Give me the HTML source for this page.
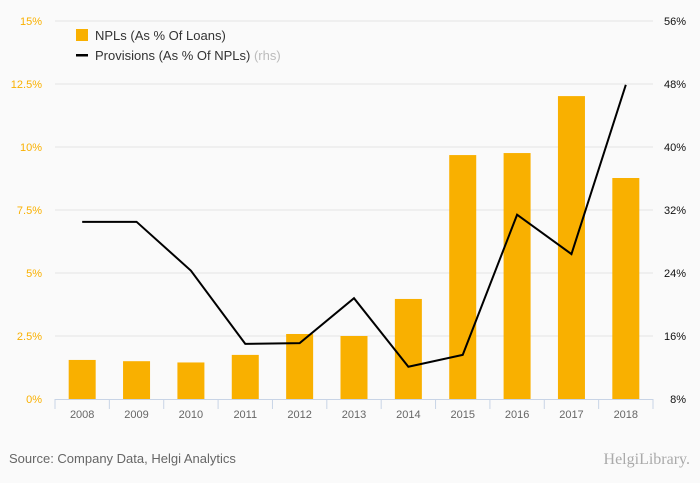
<!DOCTYPE html>
<html><head><meta charset="utf-8"><style>
body{margin:0;background:#fafafa;font-family:"Liberation Sans",sans-serif;}
svg{display:block}
</style></head><body>
<svg id="chart" width="700" height="483">
<rect width="700" height="483" fill="#fafafa"/>
<g id="grid"></g><g id="bars"></g><g id="line"></g><g id="axes"></g>
<g>
<rect x="76" y="29" width="12" height="12" fill="#f9b000"/>
<text x="95" y="40" font-size="13" fill="#333">NPLs (As % Of Loans)</text>
<rect x="76" y="54" width="12" height="2.5" fill="#000"/>
<text x="95" y="60" font-size="13" fill="#333">Provisions (As % Of NPLs) <tspan fill="#bbb">(rhs)</tspan></text>
</g>
<text x="9" y="463" font-size="13" fill="#666">Source: Company Data, Helgi Analytics</text>
<text x="690" y="464" font-size="16" fill="#aaa" text-anchor="end" font-family="Liberation Serif,serif">HelgiLibrary.</text>
</svg>
<script>
const categories=["2008","2009","2010","2011","2012","2013","2014","2015","2016","2017","2018"];
const nplValues=[1.55,1.5,1.45,1.75,2.58,2.5,3.97,9.68,9.76,12.02,8.77];
const provisionValues=[30.5,30.5,24.3,15.0,15.1,20.8,12.1,13.6,31.4,26.4,47.9];
const leftTicks=[0,2.5,5,7.5,10,12.5,15];
const leftTickLabels=["0%","2.5%","5%","7.5%","10%","12.5%","15%"];
const rightTicks=[8,16,24,32,40,48,56];
const rightTickLabels=["8%","16%","24%","32%","40%","48%","56%"];
const NS="http://www.w3.org/2000/svg";
const X0=55,X1=653,YT=21,YB=399;
const band=(X1-X0)/categories.length;
const xc=i=>X0+band*(i+0.5);
const yl=v=>YB-(v-0)/(15-0)*(YB-YT);
const yr=v=>YB-(v-8)/(56-8)*(YB-YT);
function mk(tag,attrs,parent){const e=document.createElementNS(NS,tag);for(const k in attrs)e.setAttribute(k,attrs[k]);document.getElementById(parent).appendChild(e);return e;}
leftTicks.forEach((t,i)=>{
  if(t>0){const g=mk('line',{x1:X0,x2:X1,y1:yl(t),y2:yl(t),stroke:'#e4e4e4','stroke-width':1},'grid');
  
  }
  const l=mk('text',{x:42,y:yl(t)+4,'font-size':11,fill:'#f9b000','text-anchor':'end'},'axes');l.textContent=leftTickLabels[i];
  
  
});
rightTicks.forEach((t,i)=>{
  const l=mk('text',{x:686,y:yr(t)+4,'font-size':11,fill:'#111','text-anchor':'end'},'axes');l.textContent=rightTickLabels[i];
  
  
});
const ax=mk('line',{x1:X0,x2:X1,y1:YB+0.5,y2:YB+0.5,stroke:'#c8d4e6','stroke-width':1},'axes');


for(let i=0;i<=categories.length;i++){
  const t=mk('line',{x1:X0+band*i,x2:X0+band*i,y1:YB,y2:YB+10,stroke:'#c8d4e6'},'axes');
  
  
}
categories.forEach((c,i)=>{
  const b=mk('rect',{x:xc(i)-13.5,y:yl(nplValues[i]),width:27,height:YB-yl(nplValues[i]),fill:'#f9b000'},'bars');
  
  
  const l=mk('text',{x:xc(i),y:YB+19,'font-size':11,fill:'#666','text-anchor':'middle'},'axes');l.textContent=c;
  
  
});
const pts=provisionValues.map((v,i)=>xc(i)+','+yr(v)).join(' ');
const pl=mk('polyline',{points:pts,fill:'none',stroke:'#000','stroke-width':2},'line');


</script>
</body></html>
